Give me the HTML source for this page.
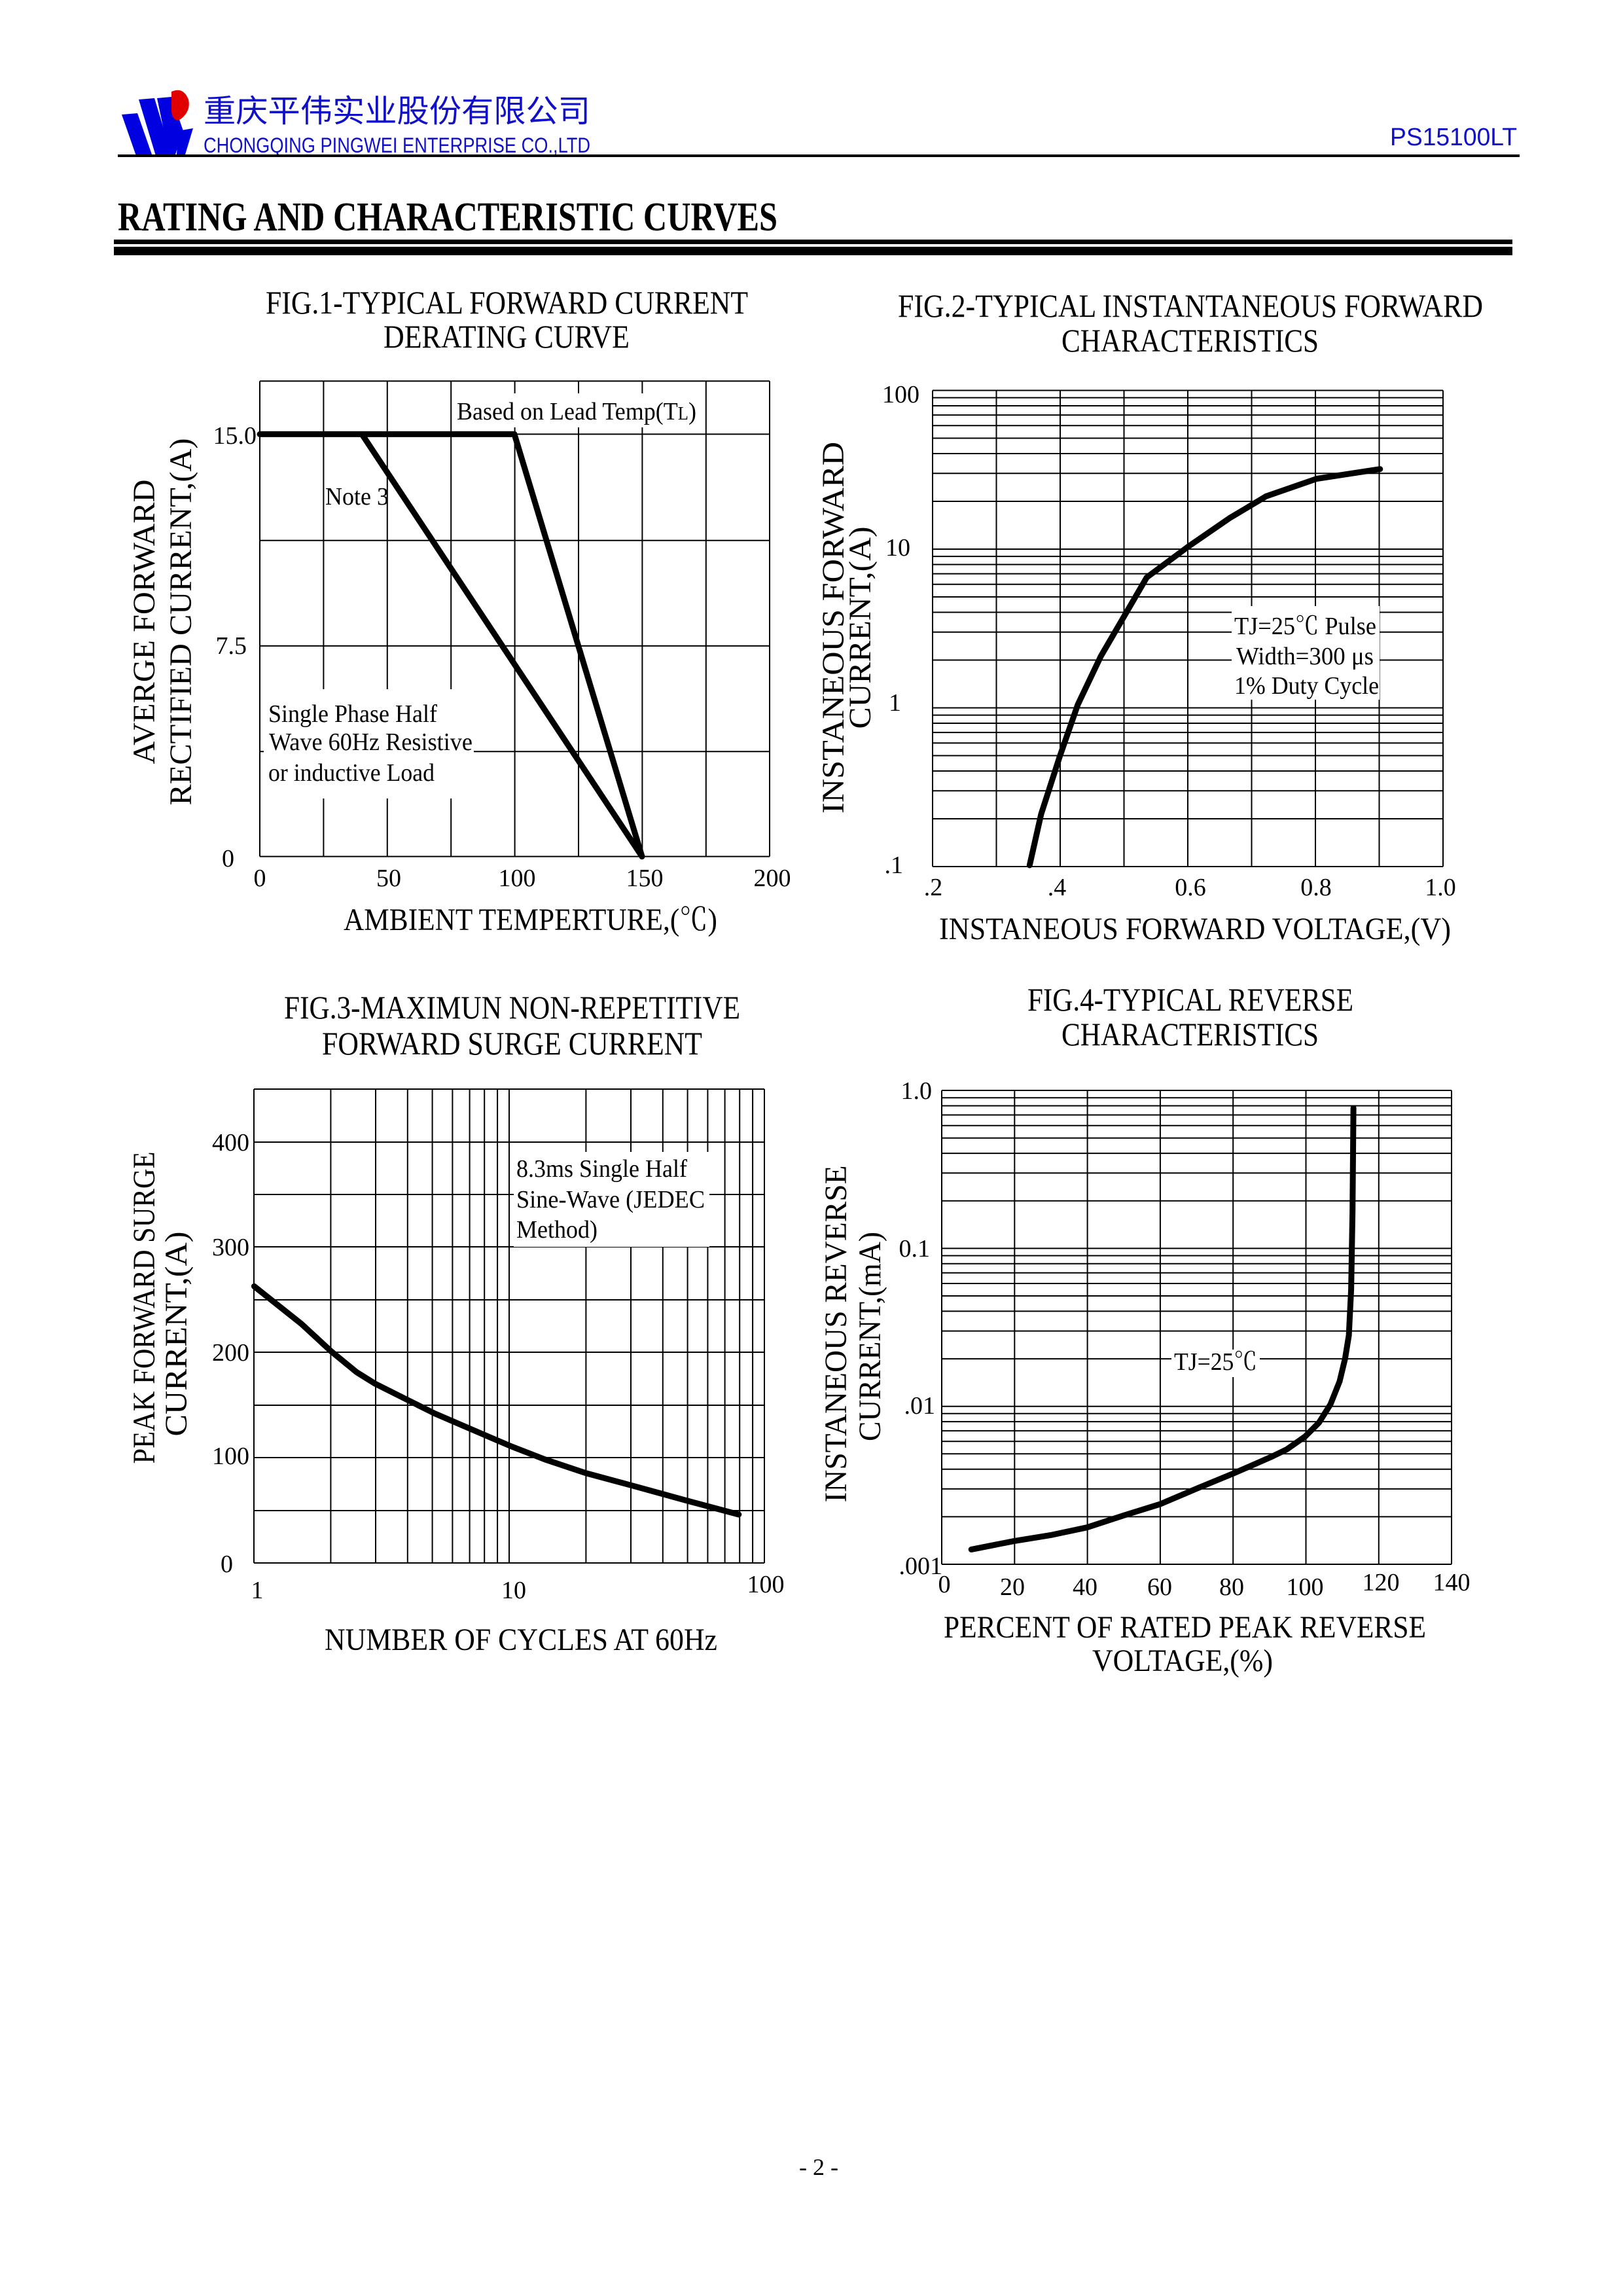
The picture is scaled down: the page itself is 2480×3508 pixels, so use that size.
<!DOCTYPE html>
<html><head><meta charset="utf-8"><style>
html,body{margin:0;padding:0;background:#fff}
svg{display:block}
text{font-family:"Liberation Serif","Noto Serif CJK SC",serif;fill:#000}
.s{font-family:"Liberation Sans","Noto Sans CJK SC",sans-serif}
.g line{stroke:#000;stroke-width:2}
.c{fill:none;stroke:#000;stroke-width:9;stroke-linejoin:round;stroke-linecap:round}
</style></head><body>
<svg width="2480" height="3508" viewBox="0 0 2480 3508" xmlns="http://www.w3.org/2000/svg">
<rect width="2480" height="3508" fill="#fff"/>
<!-- header -->
<polygon points="186,175 210,173 232,236 208,238" fill="#0000e0"/>
<polygon points="212,152 236,150 262,236 238,238" fill="#0000e0"/>
<polygon points="240,150 262,148 280,200 268,236 258,236" fill="#0000e0"/>
<path d="M262,140 q18,-8 26,12 q4,18 -12,30 q-10,6 -14,-10 z" fill="#e00000"/>
<polygon points="272,200 295,196 283,236 270,236" fill="#0000e0"/>
<text x="311" y="186" font-size="48" textLength="591" lengthAdjust="spacingAndGlyphs" class="s" style="fill:#1010c8">重庆平伟实业股份有限公司</text>
<text x="311" y="233" font-size="32" textLength="591" lengthAdjust="spacingAndGlyphs" class="s" style="fill:#1010c8">CHONGQING PINGWEI ENTERPRISE CO.,LTD</text>
<text x="2124" y="222" font-size="38" textLength="194" lengthAdjust="spacingAndGlyphs" class="s" style="fill:#1010c8">PS15100LT</text>
<line x1="180" y1="238" x2="2322" y2="238" stroke="#000" stroke-width="4"/>
<text x="180" y="352" font-size="62" font-weight="bold" textLength="1008" lengthAdjust="spacingAndGlyphs">RATING AND CHARACTERISTIC CURVES</text>
<rect x="174" y="366" width="2137" height="7" fill="#000"/>
<rect x="174" y="377" width="2137" height="13" fill="#000"/>

<!-- FIG 1 -->
<text x="406" y="479" font-size="50" textLength="737" lengthAdjust="spacingAndGlyphs">FIG.1-TYPICAL FORWARD CURRENT</text>
<text x="586" y="531" font-size="50" textLength="376" lengthAdjust="spacingAndGlyphs">DERATING CURVE</text>
<g class="g">
<line x1="397" y1="582.3" x2="1176" y2="582.3"/><line x1="397" y1="663.4" x2="1176" y2="663.4"/>
<line x1="397" y1="825.7" x2="1176" y2="825.7"/><line x1="397" y1="986.9" x2="1176" y2="986.9"/>
<line x1="397" y1="1148.3" x2="1176" y2="1148.3"/><line x1="397" y1="1308.6" x2="1176" y2="1308.6"/>
<line x1="397" y1="582.3" x2="397" y2="1308.6"/><line x1="494.4" y1="582.3" x2="494.4" y2="1308.6"/>
<line x1="591.8" y1="582.3" x2="591.8" y2="1308.6"/><line x1="689.2" y1="582.3" x2="689.2" y2="1308.6"/>
<line x1="786.6" y1="582.3" x2="786.6" y2="1308.6"/><line x1="884" y1="582.3" x2="884" y2="1308.6"/>
<line x1="981.4" y1="582.3" x2="981.4" y2="1308.6"/><line x1="1078.8" y1="582.3" x2="1078.8" y2="1308.6"/>
<line x1="1176" y1="582.3" x2="1176" y2="1308.6"/>
</g>
<rect x="694" y="601" width="374" height="52" fill="#fff"/>
<text x="698" y="641" font-size="38" textLength="366" lengthAdjust="spacingAndGlyphs">Based on Lead Temp(T<tspan font-size="28">L</tspan>)</text>
<rect x="403" y="1053" width="321" height="167" fill="#fff"/>
<text x="410" y="1103" font-size="38" textLength="258" lengthAdjust="spacingAndGlyphs">Single Phase Half</text>
<text x="411" y="1146" font-size="38" textLength="311" lengthAdjust="spacingAndGlyphs">Wave 60Hz Resistive</text>
<text x="410" y="1193" font-size="38" textLength="254" lengthAdjust="spacingAndGlyphs">or inductive Load</text>
<polyline class="c" points="397,663.4 786,663.4 981,1308.6"/>
<polyline class="c" points="553,663.4 981,1308.6"/>
<text x="497" y="771" font-size="38" textLength="97" lengthAdjust="spacingAndGlyphs">Note 3</text>
<text x="392" y="678" font-size="38" text-anchor="end">15.0</text>
<text x="377" y="999" font-size="38" text-anchor="end">7.5</text>
<text x="358" y="1324" font-size="38" text-anchor="end">0</text>
<g font-size="38" text-anchor="middle">
<text x="397" y="1354">0</text><text x="594" y="1354">50</text><text x="790" y="1354">100</text>
<text x="985" y="1354">150</text><text x="1180" y="1354">200</text>
</g>
<text x="525" y="1421" font-size="48" textLength="571" lengthAdjust="spacingAndGlyphs">AMBIENT TEMPERTURE,(℃)</text>
<text transform="translate(236,950) rotate(-90)" font-size="48" text-anchor="middle" textLength="435" lengthAdjust="spacingAndGlyphs">AVERGE FORWARD</text>
<text transform="translate(292,950) rotate(-90)" font-size="48" text-anchor="middle" textLength="561" lengthAdjust="spacingAndGlyphs">RECTIFIED CURRENT,(A)</text>

<!-- FIG 2 -->
<text x="1372" y="484" font-size="50" textLength="894" lengthAdjust="spacingAndGlyphs">FIG.2-TYPICAL INSTANTANEOUS FORWARD</text>
<text x="1622" y="537" font-size="50" textLength="393" lengthAdjust="spacingAndGlyphs">CHARACTERISTICS</text>
<g class="g">
<line x1="1425" y1="596.5" x2="2205" y2="596.5"/><line x1="1425" y1="607.6" x2="2205" y2="607.6"/><line x1="1425" y1="620" x2="2205" y2="620"/><line x1="1425" y1="634.1" x2="2205" y2="634.1"/><line x1="1425" y1="650.3" x2="2205" y2="650.3"/><line x1="1425" y1="669.5" x2="2205" y2="669.5"/><line x1="1425" y1="693" x2="2205" y2="693"/><line x1="1425" y1="723.3" x2="2205" y2="723.3"/><line x1="1425" y1="766" x2="2205" y2="766"/>
<line x1="1425" y1="839" x2="2205" y2="839"/><line x1="1425" y1="850.1" x2="2205" y2="850.1"/><line x1="1425" y1="862.5" x2="2205" y2="862.5"/><line x1="1425" y1="876.6" x2="2205" y2="876.6"/><line x1="1425" y1="892.8" x2="2205" y2="892.8"/><line x1="1425" y1="912" x2="2205" y2="912"/><line x1="1425" y1="935.5" x2="2205" y2="935.5"/><line x1="1425" y1="965.8" x2="2205" y2="965.8"/><line x1="1425" y1="1008.5" x2="2205" y2="1008.5"/>
<line x1="1425" y1="1081.5" x2="2205" y2="1081.5"/><line x1="1425" y1="1092.6" x2="2205" y2="1092.6"/><line x1="1425" y1="1105" x2="2205" y2="1105"/><line x1="1425" y1="1119.1" x2="2205" y2="1119.1"/><line x1="1425" y1="1135.3" x2="2205" y2="1135.3"/><line x1="1425" y1="1154.5" x2="2205" y2="1154.5"/><line x1="1425" y1="1178" x2="2205" y2="1178"/><line x1="1425" y1="1208.3" x2="2205" y2="1208.3"/><line x1="1425" y1="1251" x2="2205" y2="1251"/>
<line x1="1425" y1="1324" x2="2205" y2="1324"/>
<line x1="1425" y1="596.5" x2="1425" y2="1324"/><line x1="1522.5" y1="596.5" x2="1522.5" y2="1324"/><line x1="1620" y1="596.5" x2="1620" y2="1324"/><line x1="1717.5" y1="596.5" x2="1717.5" y2="1324"/><line x1="1815" y1="596.5" x2="1815" y2="1324"/><line x1="1912.5" y1="596.5" x2="1912.5" y2="1324"/><line x1="2010" y1="596.5" x2="2010" y2="1324"/><line x1="2107.5" y1="596.5" x2="2107.5" y2="1324"/><line x1="2205" y1="596.5" x2="2205" y2="1324"/>
</g>
<rect x="1882" y="926" width="226" height="143" fill="#fff"/>
<text x="1886" y="969" font-size="38" textLength="217" lengthAdjust="spacingAndGlyphs">TJ=25℃ Pulse</text>
<text x="1889" y="1015" font-size="38" textLength="210" lengthAdjust="spacingAndGlyphs">Width=300 μs</text>
<text x="1886" y="1060" font-size="38" textLength="221" lengthAdjust="spacingAndGlyphs">1% Duty Cycle</text>
<polyline class="c" points="1573.3,1322 1590.9,1243.9 1619,1156.8 1647,1076.4 1682.1,1002.7 1717.2,942.5 1752.3,882.2 1815.4,835.3 1878.6,791.8 1934.7,758.3 2011.9,731.5 2108.8,716.7"/>
<g font-size="38" text-anchor="end">
<text x="1405" y="615">100</text><text x="1391" y="849">10</text><text x="1377" y="1086">1</text><text x="1380" y="1334">.1</text>
</g>
<g font-size="38" text-anchor="middle">
<text x="1426" y="1368">.2</text><text x="1615" y="1368">.4</text><text x="1819" y="1368">0.6</text><text x="2011" y="1368">0.8</text><text x="2201" y="1368">1.0</text>
</g>
<text x="1435" y="1435" font-size="48" textLength="782" lengthAdjust="spacingAndGlyphs">INSTANEOUS FORWARD VOLTAGE,(V)</text>
<text transform="translate(1289,959) rotate(-90)" font-size="48" text-anchor="middle" textLength="568" lengthAdjust="spacingAndGlyphs">INSTANEOUS FORWARD</text>
<text transform="translate(1330,959) rotate(-90)" font-size="48" text-anchor="middle" textLength="309" lengthAdjust="spacingAndGlyphs">CURRENT,(A)</text>

<!-- FIG 3 -->
<text x="434" y="1556" font-size="50" textLength="697" lengthAdjust="spacingAndGlyphs">FIG.3-MAXIMUN NON-REPETITIVE</text>
<text x="492" y="1611" font-size="50" textLength="581" lengthAdjust="spacingAndGlyphs">FORWARD SURGE CURRENT</text>
<g class="g">
<line x1="388" y1="1664" x2="1168" y2="1664"/><line x1="388" y1="1745" x2="1168" y2="1745"/><line x1="388" y1="1825" x2="1168" y2="1825"/><line x1="388" y1="1905" x2="1168" y2="1905"/><line x1="388" y1="1986" x2="1168" y2="1986"/><line x1="388" y1="2066" x2="1168" y2="2066"/><line x1="388" y1="2147" x2="1168" y2="2147"/><line x1="388" y1="2227" x2="1168" y2="2227"/><line x1="388" y1="2308" x2="1168" y2="2308"/><line x1="388" y1="2388" x2="1168" y2="2388"/>
<line x1="388" y1="1664" x2="388" y2="2388"/><line x1="505.4" y1="1664" x2="505.4" y2="2388"/><line x1="574" y1="1664" x2="574" y2="2388"/><line x1="622.8" y1="1664" x2="622.8" y2="2388"/><line x1="660.6" y1="1664" x2="660.6" y2="2388"/><line x1="691.4" y1="1664" x2="691.4" y2="2388"/><line x1="717.6" y1="1664" x2="717.6" y2="2388"/><line x1="740.2" y1="1664" x2="740.2" y2="2388"/><line x1="760.1" y1="1664" x2="760.1" y2="2388"/><line x1="778" y1="1664" x2="778" y2="2388"/>
<line x1="895.4" y1="1664" x2="895.4" y2="2388"/><line x1="964" y1="1664" x2="964" y2="2388"/><line x1="1012.8" y1="1664" x2="1012.8" y2="2388"/><line x1="1050.6" y1="1664" x2="1050.6" y2="2388"/><line x1="1081.4" y1="1664" x2="1081.4" y2="2388"/><line x1="1107.6" y1="1664" x2="1107.6" y2="2388"/><line x1="1130.2" y1="1664" x2="1130.2" y2="2388"/><line x1="1150.1" y1="1664" x2="1150.1" y2="2388"/><line x1="1168" y1="1664" x2="1168" y2="2388"/>
</g>
<rect x="785" y="1760" width="299" height="145" fill="#fff"/>
<text x="789" y="1798" font-size="38" textLength="261" lengthAdjust="spacingAndGlyphs">8.3ms Single Half</text>
<text x="789" y="1845" font-size="38" textLength="288" lengthAdjust="spacingAndGlyphs">Sine-Wave (JEDEC</text>
<text x="789" y="1891" font-size="38" textLength="124" lengthAdjust="spacingAndGlyphs">Method)</text>
<polyline class="c" points="388.4,1965.3 460.7,2022.8 506.3,2064.9 544.9,2096.5 573,2114 622.1,2138.6 664.2,2159.6 713.3,2180.7 778.6,2208.8 832.6,2229.8 895.8,2250.9 966,2269.8 1050.2,2293 1128.8,2314"/>
<g font-size="38" text-anchor="end">
<text x="381" y="1758">400</text><text x="381" y="1918">300</text><text x="381" y="2079">200</text><text x="381" y="2237">100</text><text x="356" y="2402">0</text>
</g>
<g font-size="38" text-anchor="middle">
<text x="393" y="2442">1</text><text x="785" y="2442">10</text><text x="1170" y="2433">100</text>
</g>
<text x="496" y="2521" font-size="48" textLength="600" lengthAdjust="spacingAndGlyphs">NUMBER OF CYCLES AT 60Hz</text>
<text transform="translate(236,1998) rotate(-90)" font-size="48" text-anchor="middle" textLength="477" lengthAdjust="spacingAndGlyphs">PEAK FORWARD SURGE</text>
<text transform="translate(285,2038) rotate(-90)" font-size="48" text-anchor="middle" textLength="313" lengthAdjust="spacingAndGlyphs">CURRENT,(A)</text>

<!-- FIG 4 -->
<text x="1570" y="1544" font-size="50" textLength="498" lengthAdjust="spacingAndGlyphs">FIG.4-TYPICAL REVERSE</text>
<text x="1622" y="1597" font-size="50" textLength="393" lengthAdjust="spacingAndGlyphs">CHARACTERISTICS</text>
<g class="g">
<line x1="1439" y1="1666" x2="2218" y2="1666"/><line x1="1439" y1="1677.2" x2="2218" y2="1677.2"/><line x1="1439" y1="1689.5" x2="2218" y2="1689.5"/><line x1="1439" y1="1703.5" x2="2218" y2="1703.5"/><line x1="1439" y1="1719.7" x2="2218" y2="1719.7"/><line x1="1439" y1="1738.7" x2="2218" y2="1738.7"/><line x1="1439" y1="1762.1" x2="2218" y2="1762.1"/><line x1="1439" y1="1792.3" x2="2218" y2="1792.3"/><line x1="1439" y1="1834.8" x2="2218" y2="1834.8"/>
<line x1="1439" y1="1907.4" x2="2218" y2="1907.4"/><line x1="1439" y1="1918.5" x2="2218" y2="1918.5"/><line x1="1439" y1="1930.8" x2="2218" y2="1930.8"/><line x1="1439" y1="1944.8" x2="2218" y2="1944.8"/><line x1="1439" y1="1961" x2="2218" y2="1961"/><line x1="1439" y1="1980" x2="2218" y2="1980"/><line x1="1439" y1="2003.4" x2="2218" y2="2003.4"/><line x1="1439" y1="2033.6" x2="2218" y2="2033.6"/><line x1="1439" y1="2076.1" x2="2218" y2="2076.1"/>
<line x1="1439" y1="2148.7" x2="2218" y2="2148.7"/><line x1="1439" y1="2159.8" x2="2218" y2="2159.8"/><line x1="1439" y1="2172.1" x2="2218" y2="2172.1"/><line x1="1439" y1="2186.1" x2="2218" y2="2186.1"/><line x1="1439" y1="2202.3" x2="2218" y2="2202.3"/><line x1="1439" y1="2221.3" x2="2218" y2="2221.3"/><line x1="1439" y1="2244.7" x2="2218" y2="2244.7"/><line x1="1439" y1="2274.9" x2="2218" y2="2274.9"/><line x1="1439" y1="2317.4" x2="2218" y2="2317.4"/>
<line x1="1439" y1="2390" x2="2218" y2="2390"/>
<line x1="1439" y1="1666" x2="1439" y2="2390"/><line x1="1550.3" y1="1666" x2="1550.3" y2="2390"/><line x1="1661.6" y1="1666" x2="1661.6" y2="2390"/><line x1="1772.9" y1="1666" x2="1772.9" y2="2390"/><line x1="1884.2" y1="1666" x2="1884.2" y2="2390"/><line x1="1995.5" y1="1666" x2="1995.5" y2="2390"/><line x1="2106.8" y1="1666" x2="2106.8" y2="2390"/><line x1="2218" y1="1666" x2="2218" y2="2390"/>
</g>
<rect x="1790" y="2062" width="135" height="42" fill="#fff"/>
<text x="1794" y="2093" font-size="38" textLength="127" lengthAdjust="spacingAndGlyphs">TJ=25℃</text>
<polyline class="c" points="1484.2,2367.4 1548.8,2354.7 1604.9,2345.6 1661.1,2333.7 1717.2,2315.4 1773.3,2297.9 1829.5,2274 1885.6,2250.9 1941.8,2226.3 1966.3,2214.4 1994.4,2194.7 2015.4,2173.7 2033,2145.6 2047,2110.5 2055.4,2075.4 2061.1,2040.4 2064.6,1970.2 2066.7,1850.9 2068.1,1693"/>
<g font-size="38" text-anchor="end">
<text x="1424" y="1679">1.0</text><text x="1421" y="1920">0.1</text><text x="1429" y="2160">.01</text><text x="1440" y="2405">.001</text>
</g>
<g font-size="38" text-anchor="middle">
<text x="1443" y="2433">0</text><text x="1547" y="2437">20</text><text x="1658" y="2437">40</text><text x="1772" y="2437">60</text><text x="1882" y="2437">80</text><text x="1994" y="2437">100</text><text x="2110" y="2430">120</text><text x="2218" y="2430">140</text>
</g>
<text x="1442" y="2502" font-size="48" textLength="737" lengthAdjust="spacingAndGlyphs">PERCENT OF RATED PEAK REVERSE</text>
<text x="1669" y="2553" font-size="48" textLength="276" lengthAdjust="spacingAndGlyphs">VOLTAGE,(%)</text>
<text transform="translate(1293,2038) rotate(-90)" font-size="48" text-anchor="middle" textLength="515" lengthAdjust="spacingAndGlyphs">INSTANEOUS REVERSE</text>
<text transform="translate(1345,2042) rotate(-90)" font-size="48" text-anchor="middle" textLength="320" lengthAdjust="spacingAndGlyphs">CURRENT,(mA)</text>

<text x="1251" y="3323" font-size="36" text-anchor="middle">- 2 -</text>
</svg>
</body></html>
